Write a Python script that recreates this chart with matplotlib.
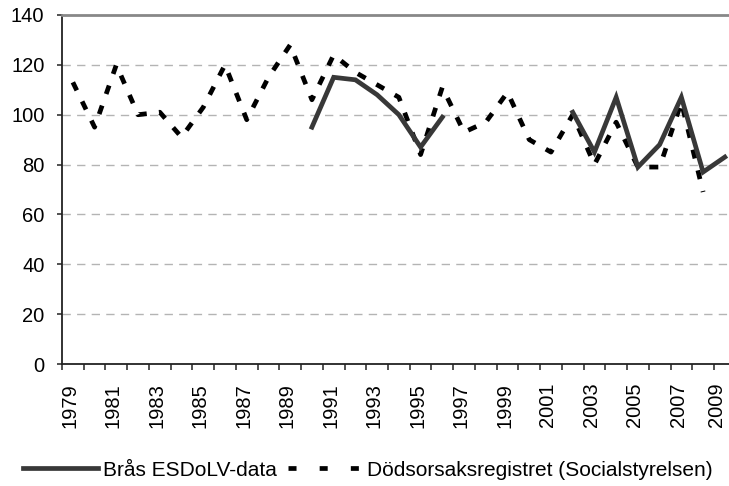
import matplotlib
matplotlib.use("Agg")
import matplotlib.pyplot as plt
from matplotlib.lines import Line2D
import matplotlib.transforms as mtransforms
import numpy as np

years = list(range(1979, 2010))
bras = [None]*11 + [95, 115, 114, 108, 100, 87, 99] + [None]*5 + [101, 85, 107, 79, 88, 107, 77, 83]
dods = [113, 95, 120, 100, 101, 91, 103, 120, 98, 115, 128, 106, 124, 117, 112, 107,
        84, 111, 93, 97, 109, 90, 85, 100, 80, 97, 79, 79, 105, 69, None]
tick_labels = [str(y) for y in years[::2]]
y_ticks = [0, 20, 40, 60, 80, 100, 120, 140]
label_bras = "Brås ESDoLV-data"
label_dods = "Dödsorsaksregistret (Socialstyrelsen)"

plt.rcParams['font.family'] = ['Liberation Sans', 'DejaVu Sans']

fig = plt.figure(figsize=(7.29, 4.86), dpi=100)
ax = fig.add_axes([62/729, 122/486, (735.7-62)/729, (364-15)/486])

x = np.arange(len(years))
b = np.array([np.nan if v is None else v for v in bras], dtype=float)
d = np.array([np.nan if v is None else v for v in dods], dtype=float)

lw = 3.4
ax.plot(x, d, color='black', lw=lw, dashes=(1.9, 2.6), dash_capstyle='butt', zorder=3)
ax.plot(x, b, color='#383838', lw=lw, solid_joinstyle='miter', zorder=4)

ax.set_xlim(-0.5, len(years) - 0.5)
ax.set_ylim(0, 140)

for yv in y_ticks[1:-1]:
    ax.axhline(yv, color='#b4b4b4', lw=1.0, dashes=(6, 4.5), zorder=1)

ax.set_yticks(y_ticks)
ax.set_yticklabels([str(v) for v in y_ticks])
ax.set_xticks(x[::2])
ax.set_xticklabels(tick_labels, rotation=90, va='top', ha='center')
ax.set_xticks(np.arange(len(years) + 1) - 0.5, minor=True)

ax.tick_params(axis='x', which='major', length=0, pad=13.5, labelsize=14.5)
ax.tick_params(axis='x', which='minor', length=4.3, width=1.2, color='#333333', direction='out')
ax.tick_params(axis='y', which='major', length=3.6, width=1.2, color='#333333', pad=9, labelsize=14.5)

labs = ax.get_xticklabels()
for i, lab in enumerate(labs):
    dx = -8 if i == len(labs) - 1 else -3
    off = mtransforms.ScaledTranslation(dx/100, 0, fig.dpi_scale_trans)
    lab.set_transform(lab.get_transform() + off)

for s in ['left', 'bottom']:
    ax.spines[s].set_color('#222222')
    ax.spines[s].set_linewidth(1.3)
ax.spines['top'].set_color('#888888')
ax.spines['top'].set_linewidth(2.0)
ax.spines['right'].set_visible(False)

h1 = Line2D([], [], color='#383838', lw=lw)
h2 = Line2D([], [], color='black', lw=lw, dashes=(1.7, 4.9), dash_capstyle='butt')
fig.legend([h1, h2], [label_bras, label_dods], loc='center', ncol=2,
           bbox_to_anchor=(0.505, 16/486), frameon=False, fontsize=15,
           handlelength=3.6, handletextpad=0.2, columnspacing=0.55,
           borderaxespad=0, borderpad=0)

fig.savefig('out.png', dpi=100)
